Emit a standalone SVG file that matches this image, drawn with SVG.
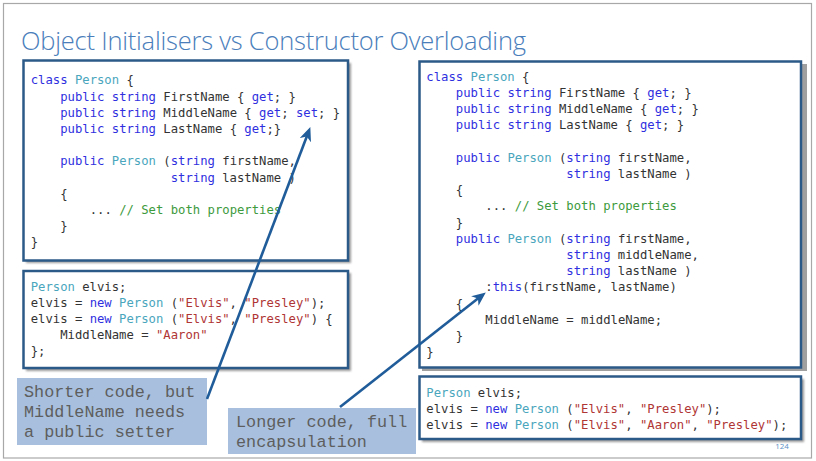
<svg xmlns="http://www.w3.org/2000/svg" width="816" height="461" viewBox="0 0 816 461">
<style>
.code{font-family:"DejaVu Sans Mono","Liberation Mono",monospace;font-size:12.24px;fill:#333333}
.k{fill:#2f2fe0}
.t{fill:#4aa6bd}
.s{fill:#b03535}
.c{fill:#3d9a3d}
.box{fill:#ffffff;stroke:#2c5a88;stroke-width:2.5}
.shadow{fill:#9a9a9a;filter:url(#blur)}
.callout{fill:#a8c0de}
.note{font-family:"Liberation Mono","Courier New",monospace;font-size:16.8px;fill:#5e5e5e}
.conn{stroke:#1f5c99;stroke-width:2.6;fill:none;marker-end:url(#arrow)}
</style>
<defs>
<filter id="blur" x="-5%" y="-5%" width="110%" height="110%"><feGaussianBlur stdDeviation="1.2"/></filter>
<marker id="arrow" markerUnits="userSpaceOnUse" markerWidth="14" markerHeight="12" viewBox="0 0 14 12" refX="8" refY="6" orient="auto">
<path d="M0,0 L14,6 L0,12 L4,6 z" fill="#1f5c99"/>
</marker>
</defs>
<rect x="3.5" y="3.5" width="808" height="454.5" fill="#ffffff" stroke="#a8a8a8" stroke-width="1.2"/>
<g id="title">
<text x="21" y="50" font-family="'Open Sans','Liberation Sans',sans-serif" font-weight="300" font-size="25.5" textLength="505" fill="#4a7ebb">Object Initialisers vs Constructor Overloading</text>
</g>
<g id="box-left-class">
<rect class="shadow" x="26" y="63" width="325" height="200"/>
<rect class="box" x="23.5" y="60.5" width="324.5" height="200"/>
<text class="code" x="30.7" y="84.3"><tspan class="k">class</tspan> <tspan class="t">Person</tspan> {</text>
<text class="code" x="60.2" y="100.5"><tspan class="k">public</tspan> <tspan class="k">string</tspan> FirstName { <tspan class="k">get</tspan>; }</text>
<text class="code" x="60.2" y="116.7"><tspan class="k">public</tspan> <tspan class="k">string</tspan> MiddleName { <tspan class="k">get</tspan>; <tspan class="k">set</tspan>; }</text>
<text class="code" x="60.2" y="132.9"><tspan class="k">public</tspan> <tspan class="k">string</tspan> LastName { <tspan class="k">get</tspan>;}</text>
<text class="code" x="60.2" y="165.3"><tspan class="k">public</tspan> <tspan class="t">Person</tspan> (<tspan class="k">string</tspan> firstName,</text>
<text class="code" x="170.7" y="181.5"><tspan class="k">string</tspan> lastName )</text>
<text class="code" x="60.2" y="197.7">{</text>
<text class="code" x="89.7" y="213.9">... <tspan class="c">// Set both properties</tspan></text>
<text class="code" x="60.2" y="230.1">}</text>
<text class="code" x="30.7" y="246.3">}</text>
</g>
<g id="box-left-usage">
<rect class="shadow" x="26" y="273" width="325" height="98"/>
<rect class="box" x="23.5" y="271" width="324.5" height="97"/>
<text class="code" x="30.7" y="291"><tspan class="t">Person</tspan> elvis;</text>
<text class="code" x="30.7" y="307">elvis = <tspan class="k">new</tspan> <tspan class="t">Person</tspan> (<tspan class="s">"Elvis"</tspan>, <tspan class="s">"Presley"</tspan>);</text>
<text class="code" x="30.7" y="323">elvis = <tspan class="k">new</tspan> <tspan class="t">Person</tspan> (<tspan class="s">"Elvis"</tspan>, <tspan class="s">"Presley"</tspan>) {</text>
<text class="code" x="60.2" y="339">MiddleName = <tspan class="s">"Aaron"</tspan></text>
<text class="code" x="30.7" y="355">};</text>
</g>
<g id="box-right-class">
<rect x="422" y="64" width="385" height="307" fill="#a0a0a0"/>
<rect class="box" x="419.5" y="61.5" width="381.5" height="306"/>
<text class="code" x="426.3" y="80.7"><tspan class="k">class</tspan> <tspan class="t">Person</tspan> {</text>
<text class="code" x="455.8" y="96.9"><tspan class="k">public</tspan> <tspan class="k">string</tspan> FirstName { <tspan class="k">get</tspan>; }</text>
<text class="code" x="455.8" y="113.1"><tspan class="k">public</tspan> <tspan class="k">string</tspan> MiddleName { <tspan class="k">get</tspan>; }</text>
<text class="code" x="455.8" y="129.3"><tspan class="k">public</tspan> <tspan class="k">string</tspan> LastName { <tspan class="k">get</tspan>; }</text>
<text class="code" x="455.8" y="161.7"><tspan class="k">public</tspan> <tspan class="t">Person</tspan> (<tspan class="k">string</tspan> firstName,</text>
<text class="code" x="566.3" y="177.9"><tspan class="k">string</tspan> lastName )</text>
<text class="code" x="455.8" y="194.1">{</text>
<text class="code" x="485.3" y="210.3">... <tspan class="c">// Set both properties</tspan></text>
<text class="code" x="455.8" y="226.5">}</text>
<text class="code" x="455.8" y="242.7"><tspan class="k">public</tspan> <tspan class="t">Person</tspan> (<tspan class="k">string</tspan> firstName,</text>
<text class="code" x="566.3" y="258.9"><tspan class="k">string</tspan> middleName,</text>
<text class="code" x="566.3" y="275.1"><tspan class="k">string</tspan> lastName )</text>
<text class="code" x="485.3" y="291.3">:<tspan class="k">this</tspan>(firstName, lastName)</text>
<text class="code" x="455.8" y="307.5">{</text>
<text class="code" x="485.3" y="323.7">MiddleName = middleName;</text>
<text class="code" x="455.8" y="339.9">}</text>
<text class="code" x="426.3" y="356.1">}</text>
</g>
<g id="box-right-usage">
<rect class="shadow" x="422" y="379" width="382" height="63"/>
<rect class="box" x="419.5" y="376.5" width="381.5" height="62.5"/>
<text class="code" x="426.3" y="396.5"><tspan class="t">Person</tspan> elvis;</text>
<text class="code" x="426.3" y="412.5">elvis = <tspan class="k">new</tspan> <tspan class="t">Person</tspan> (<tspan class="s">"Elvis"</tspan>, <tspan class="s">"Presley"</tspan>);</text>
<text class="code" x="426.3" y="428.5">elvis = <tspan class="k">new</tspan> <tspan class="t">Person</tspan> (<tspan class="s">"Elvis"</tspan>, <tspan class="s">"Aaron"</tspan>, <tspan class="s">"Presley"</tspan>);</text>
</g>
<g id="callout-short">
<rect class="callout" x="17" y="378" width="190" height="67"/>
<text class="note" x="24" y="396.7">Shorter code, but</text>
<text class="note" x="24" y="416.7">MiddleName needs</text>
<text class="note" x="24" y="436.7">a public setter</text>
</g>
<g id="callout-long">
<rect class="callout" x="228" y="408" width="188" height="46"/>
<text class="note" x="236" y="426.7">Longer code, full</text>
<text class="note" x="236" y="446.7">encapsulation</text>
</g>
<g id="connectors">
<line class="conn" x1="207" y1="399" x2="308.2" y2="132.7"/>
<line class="conn" x1="340" y1="407" x2="481.1" y2="296.1"/>
</g>
<g id="page-number">
<text x="782" y="449" text-anchor="middle" font-family="'Open Sans','Liberation Sans',sans-serif" font-size="8" fill="#5b8fc7">124</text>
</g>
</svg>
